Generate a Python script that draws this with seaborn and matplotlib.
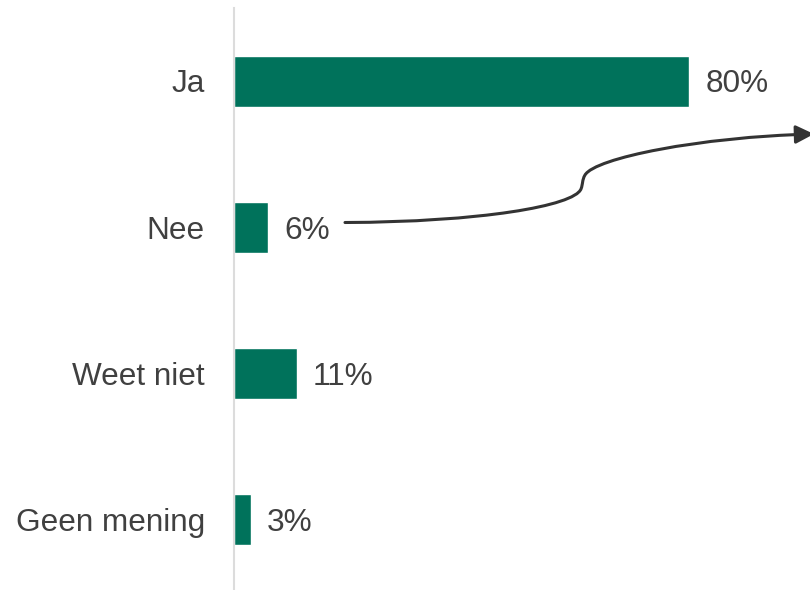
import matplotlib
matplotlib.use("Agg")
import matplotlib.pyplot as plt
import seaborn as sns
import pandas as pd
from matplotlib.path import Path
from matplotlib.patches import FancyArrowPatch

categories = ["Ja", "Nee", "Weet niet", "Geen mening"]
values = [80, 6, 11, 3]
value_labels = ["80%", "6%", "11%", "3%"]

sns.set_theme(style="white")
plt.rcParams["font.family"] = ["Liberation Sans", "DejaVu Sans"]

df = pd.DataFrame({"cat": categories, "val": values})

W, H = 810, 590
fig = plt.figure(figsize=(W / 100, H / 100), dpi=100)
ax = fig.add_axes([234 / W, 0, 576 / W, 1 - 8 / H])

bar_color = "#00725B"
text_color = "#404040"
fs = 22.7
base_off = -0.716 * fs / 2

sns.barplot(data=df, x="val", y="cat", orient="h", color=bar_color,
            width=0.35, saturation=1, ax=ax)

ax.set_xlim(0, 101.2)
ax.set_ylim(3.48, -0.5)
ax.set_xlabel("")
ax.set_ylabel("")
ax.set_xticks([])
ax.set_yticklabels([])
for s in ["top", "right", "bottom"]:
    ax.spines[s].set_visible(False)
ax.spines["left"].set_color("#dcdcdc")
ax.spines["left"].set_linewidth(1.5)
ax.tick_params(axis="y", length=0)

for i, cat in enumerate(categories):
    ax.annotate(cat, xy=(0, i), xytext=(-21, base_off), textcoords="offset points",
                va="baseline", ha="right", fontsize=fs, color=text_color,
                annotation_clip=False)

for i, (v, lab) in enumerate(zip(values, value_labels)):
    ax.annotate(lab, xy=(v, i), xytext=(11.5, base_off), textcoords="offset points",
                va="baseline", ha="left", fontsize=fs, color=text_color)

# curved arrow from the "6%" label towards the right edge
def fp(x, y):
    return (x / W, 1 - y / H)

verts = [fp(345, 222.5), fp(480, 222), fp(574, 206), fp(581, 189),
         fp(583, 184), fp(582, 180), fp(585, 175),
         fp(595, 158), fp(700, 137), fp(814, 134)]
codes = [Path.MOVETO] + [Path.CURVE4] * 9
arrow = FancyArrowPatch(path=Path(verts, codes), arrowstyle="-|>,head_length=11,head_width=5.5",
                        color="#333333", linewidth=2.2, transform=fig.transFigure,
                        mutation_scale=1)
fig.add_artist(arrow)

fig.savefig("out.png", dpi=100)
